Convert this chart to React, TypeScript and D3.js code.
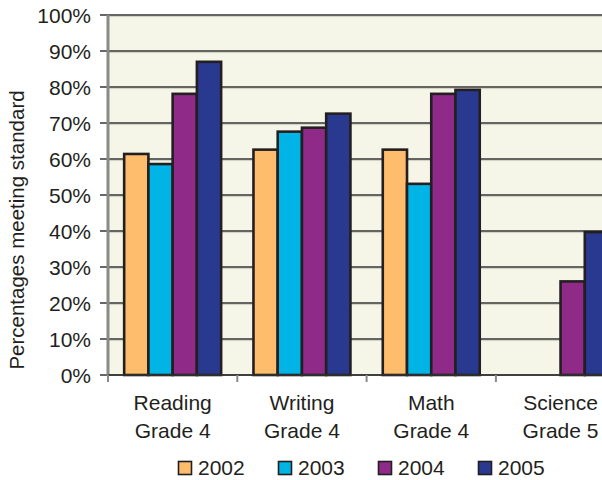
import React from "react";
import * as d3 from "d3";

const categories = ["Reading|Grade 4", "Writing|Grade 4", "Math|Grade 4", "Science|Grade 5"];
const years = ["2002", "2003", "2004", "2005"];
const values2002 = [0.614, 0.626, 0.626, null];
const values2003 = [0.586, 0.676, 0.531, null];
const values2004 = [0.781, 0.687, 0.781, 0.26];
const values2005 = [0.87, 0.726, 0.792, 0.397];
const yTicks = [0, 0.1, 0.2, 0.3, 0.4, 0.5, 0.6, 0.7, 0.8, 0.9, 1];
const colors = ["#fdbd6d", "#00b5e6", "#8f2a89", "#293990"];

const series = [values2002, values2003, values2004, values2005];

const W = 602;
const H = 480;
const FONT = "'Liberation Sans', Arial, Helvetica, sans-serif";
const INK = "#231f20";

export default function App() {
  const left = 108;
  const step = 129.3;
  const x = d3
    .scaleBand()
    .domain(categories)
    .range([left, left + step * categories.length])
    .padding(0);
  const xi = d3
    .scaleBand()
    .domain(years)
    .range([0, x.bandwidth()])
    .paddingInner(0)
    .paddingOuter(0.667);
  const y = d3.scaleLinear().domain([0, 1]).range([375, 15]);
  const fmt = d3.format(".0%");

  return (
    <svg
      width={W}
      height={H}
      style={{ position: "absolute", left: 0, top: 0, background: "#fff" }}
      fontFamily={FONT}
    >
      {/* plot background */}
      <rect x={left} y={y(1)} width={W - left} height={y(0) - y(1)} fill="#f6f6e8" />

      {/* gridlines */}
      {yTicks.map((t) => (
        <g key={t}>
          {t > 0 && (
            <line x1={left} x2={W} y1={y(t) + 1.6} y2={y(t) + 1.6} stroke="#cfcfc4" strokeWidth={1} />
          )}
          <line x1={left - 8} x2={W} y1={y(t)} y2={y(t)} stroke="#333" strokeWidth={1.6} />
          <text x={91} y={y(t) + 7.8} textAnchor="end" fontSize={21} fill={INK}>
            {fmt(t)}
          </text>
        </g>
      ))}

      {/* bars */}
      {categories.map((c, ci) =>
        series.map((s, si) => {
          const v = s[ci];
          if (v == null) return null;
          const bx = (x(c) as number) + (xi(years[si]) as number);
          return (
            <rect
              key={c + si}
              x={bx}
              y={y(v)}
              width={xi.bandwidth()}
              height={y(0) - y(v)}
              fill={colors[si]}
              stroke={INK}
              strokeWidth={2.6}
            />
          );
        })
      )}

      {/* y axis */}
      <line x1={left} x2={left} y1={y(1)} y2={y(0)} stroke="#8a8a8a" strokeWidth={3} />
      <line x1={left} x2={W} y1={y(0)} y2={y(0)} stroke="#333" strokeWidth={1.6} />

      {/* x ticks */}
      {categories.map((c) => (
        <line
          key={c}
          x1={x(c) as number}
          x2={x(c) as number}
          y1={y(0)}
          y2={y(0) + 7}
          stroke="#8a8a8a"
          strokeWidth={2}
        />
      ))}

      {/* category labels */}
      {categories.map((c) => {
        const cx = (x(c) as number) + x.bandwidth() / 2;
        const [a, b] = c.split("|");
        return (
          <text key={c} x={cx} textAnchor="middle" fontSize={21} fill={INK}>
            <tspan x={cx} y={410}>
              {a}
            </tspan>
            <tspan x={cx} y={438}>
              {b}
            </tspan>
          </text>
        );
      })}

      {/* y title */}
      <text
        transform="translate(24,230) rotate(-90)"
        textAnchor="middle"
        fontSize={20.5}
        fill={INK}
      >
        Percentages meeting standard
      </text>

      {/* legend */}
      {years.map((yr, i) => (
        <g key={yr} transform={`translate(${178 + i * 100},461)`}>
          <rect x={0.5} y={0.5} width={13} height={13} fill={colors[i]} stroke={INK} strokeWidth={1.6} />
          <text x={20} y={14} fontSize={21} fill={INK}>
            {yr}
          </text>
        </g>
      ))}
    </svg>
  );
}
